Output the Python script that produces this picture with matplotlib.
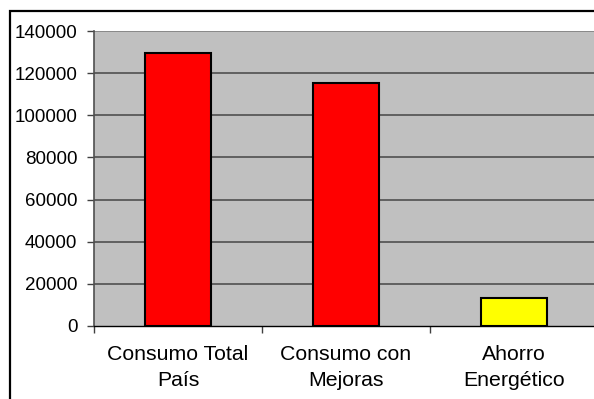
import matplotlib.pyplot as plt
from matplotlib.patches import Rectangle

categories = ['Consumo Total\nPaís', 'Consumo con\nMejoras', 'Ahorro\nEnergético']
values = [129700, 115200, 13500]
colors = ['#FF0000', '#FF0000', '#FFFF00']
yticks = [0, 20000, 40000, 60000, 80000, 100000, 120000, 140000]

plt.rcParams['font.family'] = ['Liberation Sans', 'DejaVu Sans']

fig = plt.figure(figsize=(5.94, 3.99), dpi=100)
ax = fig.add_axes([94 / 594, 73 / 399, 504 / 594, 295 / 399])
ax.set_facecolor('#C0C0C0')

x = range(len(categories))
ax.bar(x, values, width=0.39, color=colors, edgecolor='black', linewidth=1.5, zorder=3)

ax.set_xlim(-0.5, 2.5)
ax.set_ylim(0, 140000)
ax.set_yticks(yticks)
ax.set_yticklabels([str(v) for v in yticks], fontsize=13.5)
ax.tick_params(axis='y', length=5, width=1, color='#404040', pad=7)

ax.set_xticks(list(x))
ax.set_xticklabels(categories, fontsize=15.3, linespacing=1.45)
ax.tick_params(axis='x', which='major', length=0, pad=14)
ax.set_xticks([-0.5, 0.5, 1.5, 2.5], minor=True)
ax.tick_params(axis='x', which='minor', length=5, width=1, color='#404040')

for y in yticks[1:]:
    ax.axhline(y, color='#505050' if y < 140000 else '#808080', linewidth=1.2, zorder=1)

for side in ['top', 'right']:
    ax.spines[side].set_visible(False)
ax.spines['left'].set_color('#505050')
ax.spines['left'].set_linewidth(1.2)
ax.spines['bottom'].set_color('black')
ax.spines['bottom'].set_linewidth(1)

fig.patches.append(Rectangle((10 / 594, -0.5), 2, 388 / 399 + 0.5, transform=fig.transFigure,
                             fill=False, edgecolor='black', linewidth=1.6))

fig.savefig('out.png', dpi=100)
